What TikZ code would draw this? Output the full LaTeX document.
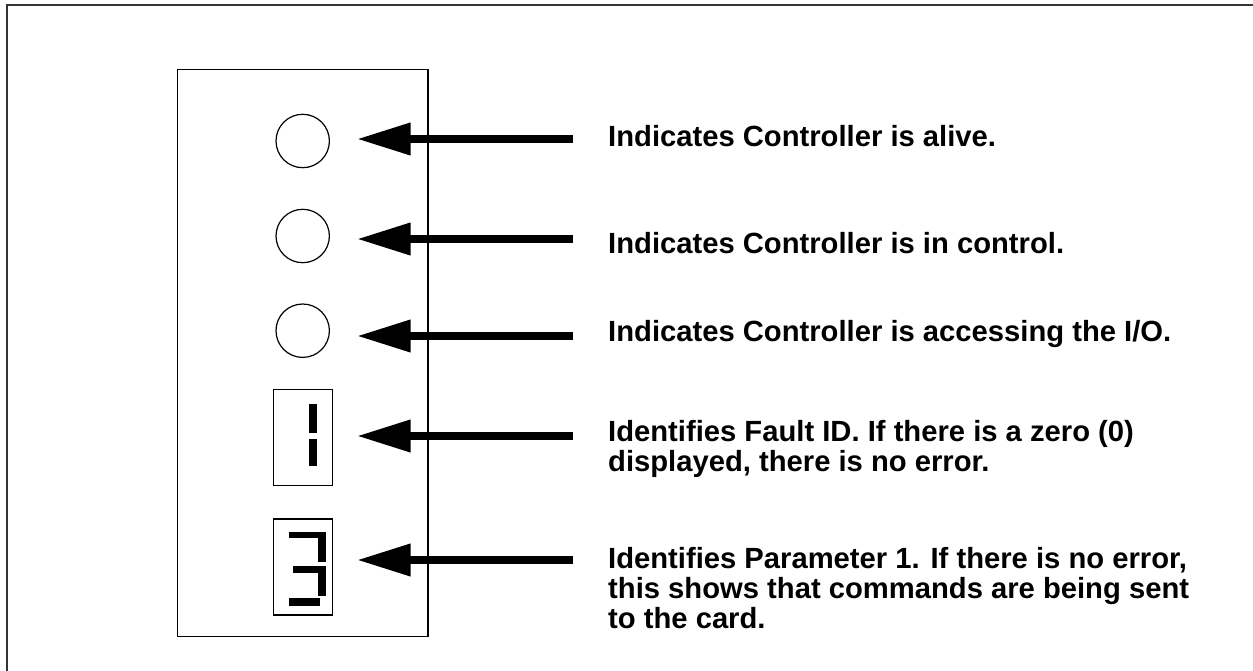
\documentclass[tikz,border=0pt]{standalone}
\usepackage{fontspec}
\setmainfont{Liberation Sans}
\usetikzlibrary{arrows.meta}
\definecolor{framegray}{HTML}{333333}
\tikzset{
  led/.style={circle, draw, line width=1.2pt, minimum size=53.4pt, inner sep=0pt},
  digitbox/.style={rectangle, draw, line width=1.2pt, minimum width=59pt, minimum height=96pt, inner sep=0pt},
  seg/.style={fill=black, draw=none},
  label/.style={anchor=base west, inner sep=0pt, font=\fontsize{29.2}{30}\selectfont\bfseries},
  bigarrow/.style={line width=7.3pt, -{Triangle[length=53.3pt, width=31pt]}},
}
\begin{document}
\begin{tikzpicture}[x=1pt, y=-1pt]
\useasboundingbox (0,0) rectangle (1253,671);
% outer frame (only top and left edges visible)
\draw[framegray, line width=2pt] (6.5,671) -- (6.5,5.5) -- (1253,5.5);
% panel
\node[draw, line width=1.3pt, minimum width=250.5pt, minimum height=567.2pt, inner sep=0pt] (panel) at (302.75,353.1) {};
% LEDs
\node[led] (l1) at (302.7,141) {};
\node[led] (l2) at (302.7,236) {};
\node[led] (l3) at (302.7,330.7) {};
% digit displays
\node[digitbox] (d1) at (302.8,437.6) {};
\node[digitbox] (d2) at (302.8,567) {};
% digit 1
\fill[seg] (309.3,404) rectangle (317.3,433.3);
\fill[seg] (309.3,439.3) rectangle (317.3,465.7);
% digit 3
\fill[seg] (289.3,531.7) rectangle (325,538.3);
\fill[seg] (318.3,531.7) rectangle (325.7,561.7);
\fill[seg] (292.7,566) rectangle (325,573.3);
\fill[seg] (318.3,566) rectangle (325.7,596);
\fill[seg] (289.3,598.3) rectangle (320,605.7);
% labels
\node[label] (t1) at (608,146.7) {Indicates Controller is alive.};
\node[label] (t2) at (608,254) {Indicates Controller is in control.};
\node[label] (t3) at (608,341.7) {Indicates Controller is accessing the I/O.};
\node[label] (t4) at (608,441.7) {\vtop{\baselineskip=30pt\hbox{Identifies Fault ID. If there is a zero (0)}\hbox{displayed, there is no error.}}};
\node[label] (t5) at (608,568.3) {\vtop{\baselineskip=30pt\hbox{Identifies Parameter 1. If there is no error,}\hbox{this shows that commands are being sent}\hbox{to the card.}}};
% arrow starts
\coordinate (a1) at (573,139);
\coordinate (a2) at (573,239);
\coordinate (a3) at (573,336);
\coordinate (a4) at (573,436);
\coordinate (a5) at (573,560);
% arrows
\draw[bigarrow, shorten >=27.3pt] (a1) -- (a1 -| l1.east);
\draw[bigarrow, shorten >=27.3pt] (a2) -- (a2 -| l2.east);
\draw[bigarrow, shorten >=27.3pt] (a3) -- (a3 -| l3.east);
\draw[bigarrow, shorten >=24.4pt] (a4) -- (a4 -| d1.east);
\draw[bigarrow, shorten >=24.4pt] (a5) -- (a5 -| d2.east);
\end{tikzpicture}
\end{document}
